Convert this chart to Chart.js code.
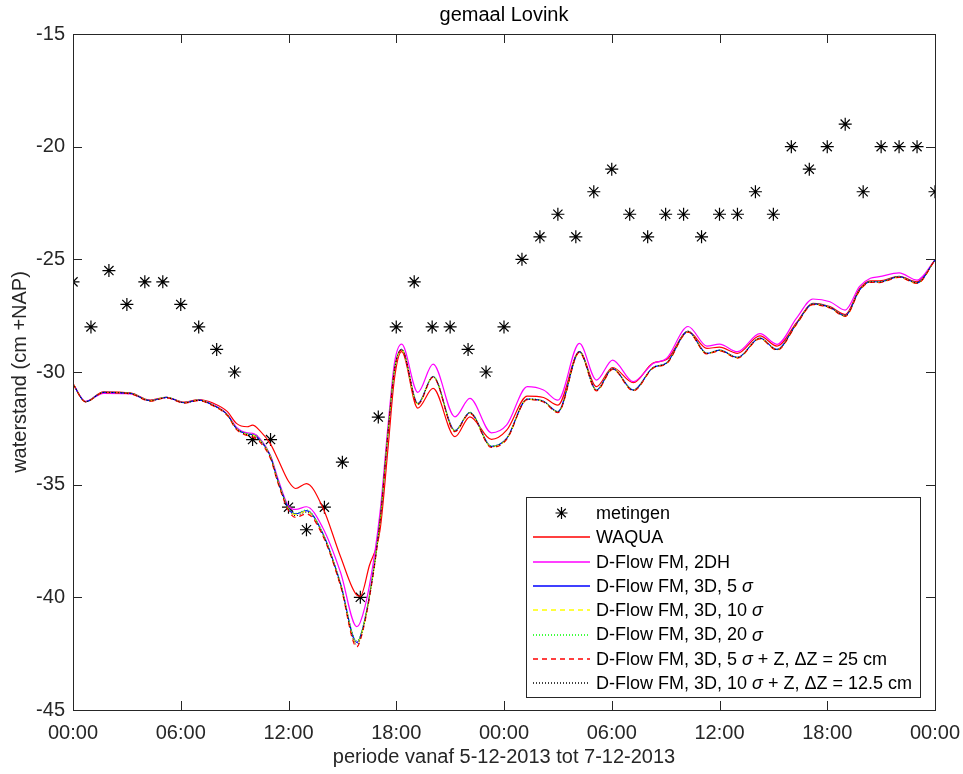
<!DOCTYPE html>
<html lang="nl">
<head>
<meta charset="UTF-8">
<title>gemaal Lovink</title>
<style>
  html, body { margin: 0; padding: 0; background: #fff; }
  #grafiek { display: block; }
</style>
<script src="https://cdn.jsdelivr.net/npm/chart.js@4.4.0/dist/chart.umd.min.js"></script>
</head>
<body>
<canvas id="grafiek" width="963" height="774"></canvas>
<script>
// uren sinds 5-12-2013 00:00
const metingUren = [0, 1, 2, 3, 4, 5, 6, 7, 8, 9, 10, 11, 12, 13, 14, 15, 16, 17, 18, 19,
                    20, 21, 22, 23, 24, 25, 26, 27, 28, 29, 30, 31, 32, 33, 34, 35, 36, 37, 38, 39,
                    40, 41, 42, 43, 44, 45, 46, 47, 48];
const metingen = [-26, -28, -25.5, -27, -26, -26, -27, -28, -29, -30,
                  -33, -33, -36, -37, -36, -34, -40, -32, -28, -26,
                  -28, -28, -29, -30, -28, -25, -24, -23, -24, -22,
                  -21, -23, -24, -23, -23, -24, -23, -23, -22, -23,
                  -20, -21, -20, -19, -22, -20, -20, -20, -22];

const modelUren = [0, 0.7, 1.7, 3.2, 4.3, 5.2, 6.2, 7.0, 7.8, 8.6,
                   9.1, 9.7, 10.0, 10.4, 11.0, 11.4, 12.0, 12.4, 13.0, 13.9,
                   14.9, 15.8, 16.0, 16.5, 17.1, 17.55, 17.9, 18.3, 19.2, 20.05,
                   21.27, 22.1, 23.3, 24.15, 25.3, 26.2, 27.0, 28.2, 29.15, 30.05,
                   31.2, 32.3, 33.05, 34.25, 35.3, 36.0, 37.0, 38.25, 39.2, 40.3,
                   41.2, 42.15, 43.0, 43.8, 44.4, 44.9, 46.0, 47.0, 48.0];

const waqua = [-30.53, -31.32, -30.88, -30.93, -31.25, -31.12, -31.34, -31.22, -31.38, -31.76,
               -32.28, -32.43, -32.36, -32.60, -33.20, -33.85, -34.85, -35.17, -34.95, -36.00,
               -38.20, -39.90, -39.95, -38.60, -37.00, -33.30, -30.30, -29.10, -31.60, -30.73,
               -32.87, -31.99, -32.99, -32.58, -31.07, -31.13, -31.47, -29.10, -30.65, -29.80,
               -30.47, -29.60, -29.45, -28.20, -28.95, -28.90, -29.17, -28.40, -28.85, -27.80,
               -26.95, -27.10, -27.45, -26.30, -25.95, -25.95, -25.75, -26.00, -25.03];

const fm2dh = [-30.53, -31.30, -30.95, -30.97, -31.27, -31.13, -31.36, -31.25, -31.45, -31.88,
               -32.45, -32.70, -32.72, -32.95, -33.70, -34.70, -35.95, -36.10, -35.98, -36.90,
               -38.90, -41.30, -41.10, -39.50, -36.20, -32.30, -29.60, -28.76, -30.90, -29.65,
               -31.99, -31.17, -32.70, -32.35, -30.65, -30.80, -31.25, -28.73, -30.36, -29.47,
               -30.43, -29.62, -29.40, -27.98, -28.85, -28.76, -29.10, -28.30, -28.77, -27.60,
               -26.76, -26.88, -27.25, -26.20, -25.84, -25.77, -25.60, -25.92, -25.03];

const fm3d5 = [-30.53, -31.32, -30.90, -30.95, -31.27, -31.13, -31.36, -31.25, -31.47, -31.90,
               -32.50, -32.75, -32.78, -33.00, -33.76, -34.80, -36.05, -36.30, -36.15, -37.15,
               -39.40, -42.00, -41.75, -39.97, -36.57, -32.60, -29.90, -29.00, -31.40, -30.20,
               -32.60, -31.80, -33.30, -32.95, -31.20, -31.30, -31.76, -29.10, -30.80, -29.85,
               -30.80, -29.80, -29.60, -28.20, -29.17, -29.03, -29.35, -28.50, -29.00, -27.84,
               -26.98, -27.13, -27.50, -26.36, -25.99, -26.00, -25.77, -26.04, -25.03];

const fm3d10 = [-30.53, -31.32, -30.91, -30.96, -31.27, -31.13, -31.36, -31.25, -31.48, -31.92,
                -32.52, -32.77, -32.80, -33.02, -33.78, -34.83, -36.08, -36.33, -36.18, -37.18,
                -39.45, -42.05, -41.80, -40.00, -36.60, -32.62, -29.92, -29.02, -31.42, -30.22,
                -32.62, -31.82, -33.32, -32.97, -31.22, -31.32, -31.78, -29.12, -30.82, -29.87,
                -30.82, -29.82, -29.62, -28.22, -29.19, -29.05, -29.37, -28.52, -29.02, -27.86,
                -27.00, -27.15, -27.52, -26.38, -26.01, -26.02, -25.79, -26.06, -25.03];

const fm3d20 = [-30.53, -31.31, -30.90, -30.94, -31.26, -31.12, -31.35, -31.24, -31.46, -31.89,
                -32.48, -32.73, -32.76, -32.98, -33.74, -34.78, -36.02, -36.27, -36.12, -37.12,
                -39.36, -41.92, -41.70, -39.93, -36.55, -32.58, -29.89, -28.99, -31.38, -30.19,
                -32.58, -31.78, -33.28, -32.93, -31.19, -31.29, -31.75, -29.09, -30.79, -29.84,
                -30.79, -29.79, -29.59, -28.19, -29.16, -29.02, -29.34, -28.49, -28.99, -27.83,
                -26.97, -27.12, -27.49, -26.35, -25.98, -25.99, -25.76, -26.03, -25.03];

const fm3d5z = [-30.54, -31.33, -30.92, -30.97, -31.29, -31.15, -31.38, -31.27, -31.50, -31.94,
                -32.55, -32.82, -32.88, -33.10, -33.85, -34.90, -36.15, -36.45, -36.30, -37.25,
                -39.50, -42.20, -41.90, -40.05, -36.62, -32.63, -29.93, -29.03, -31.45, -30.23,
                -32.65, -31.84, -33.35, -32.99, -31.23, -31.33, -31.80, -29.13, -30.84, -29.88,
                -30.84, -29.83, -29.63, -28.23, -29.20, -29.06, -29.38, -28.53, -29.03, -27.87,
                -27.01, -27.16, -27.53, -26.39, -26.02, -26.03, -25.80, -26.07, -25.03];

const fm3d10z = [-30.53, -31.32, -30.91, -30.96, -31.28, -31.14, -31.37, -31.26, -31.48, -31.91,
                 -32.52, -32.78, -32.82, -33.04, -33.80, -34.85, -36.10, -36.38, -36.22, -37.20,
                 -39.46, -42.10, -41.82, -40.01, -36.60, -32.61, -29.91, -29.01, -31.42, -30.21,
                 -32.62, -31.81, -33.32, -32.96, -31.21, -31.31, -31.77, -29.11, -30.81, -29.86,
                 -30.81, -29.81, -29.61, -28.21, -29.18, -29.04, -29.36, -28.51, -29.01, -27.85,
                 -26.99, -27.14, -27.51, -26.37, -26.00, -26.01, -25.78, -26.05, -25.03];

const xTickUren = [0, 6, 12, 18, 24, 30, 36, 42, 48];
const xTickLabels = ['00:00', '06:00', '12:00', '18:00', '00:00', '06:00', '12:00', '18:00', '00:00'];
const yTicks = [-45, -40, -35, -30, -25, -20, -15];

const namen = ['metingen', 'WAQUA', 'D-Flow FM, 2DH', 'D-Flow FM, 3D, 5 σ', 'D-Flow FM, 3D, 10 σ',
               'D-Flow FM, 3D, 20 σ', 'D-Flow FM, 3D, 5 σ + Z, ΔZ = 25 cm', 'D-Flow FM, 3D, 10 σ + Z, ΔZ = 12.5 cm'];

// lijnkleur, streeppatroon en dikte per reeks (index 0 = metingen)
const kleuren = ['#000000', '#ff0000', '#ff00ff', '#0000ff', '#ffff00', '#00ff00', '#ff0000', '#000000'];
const strepen = [[], [], [], [], [5, 4], [1, 2], [5, 4], [1, 2]];
const dikten = [1.2, 1.2, 1.2, 1.2, 1.2, 1, 1.2, 1];

const fontFam = '"Liberation Sans", Arial, Helvetica, sans-serif';
const asKleur = '#262626';

function punten(uren, waarden) {
    return uren.map((u, i) => ({ x: u, y: waarden[i] }));
}

function lijn(i, waarden) {
    return {
        label: namen[i],
        data: punten(modelUren, waarden),
        borderColor: kleuren[i],
        backgroundColor: kleuren[i],
        borderWidth: dikten[i],
        borderDash: strepen[i],
        pointRadius: 0,
        cubicInterpolationMode: 'monotone',
        fill: false,
        order: namen.length - 1 - i
    };
}

const datasets = [
    {
        label: namen[0],
        data: punten(metingUren, metingen),
        showLine: false,
        pointStyle: 'star',
        pointRadius: 6.5,
        pointBorderWidth: 1.2,
        pointBorderColor: '#000',
        pointBackgroundColor: '#000',
        borderColor: '#000',
        order: namen.length
    },
    lijn(1, waqua),
    lijn(2, fm2dh),
    lijn(3, fm3d5),
    lijn(4, fm3d10),
    lijn(5, fm3d20),
    lijn(6, fm3d5z),
    lijn(7, fm3d10z)
];

// assenkader met tickjes naar binnen, aan alle vier de zijden
const kaderPlugin = {
    id: 'kader',
    afterDatasetsDraw(chart) {
        const { ctx, chartArea: a, scales } = chart;
        const len = 9;
        ctx.save();
        ctx.strokeStyle = asKleur;
        ctx.lineWidth = 1;
        ctx.setLineDash([]);
        ctx.strokeRect(Math.round(a.left) + 0.5, Math.round(a.top) + 0.5,
                       Math.round(a.right - a.left), Math.round(a.bottom - a.top));
        ctx.beginPath();
        xTickUren.forEach(u => {
            const px = Math.round(scales.x.getPixelForValue(u)) + 0.5;
            ctx.moveTo(px, a.bottom); ctx.lineTo(px, a.bottom - len);
            ctx.moveTo(px, a.top); ctx.lineTo(px, a.top + len);
        });
        yTicks.forEach(v => {
            const py = Math.round(scales.y.getPixelForValue(v)) + 0.5;
            ctx.moveTo(a.left, py); ctx.lineTo(a.left + len, py);
            ctx.moveTo(a.right, py); ctx.lineTo(a.right - len, py);
        });
        ctx.stroke();
        ctx.restore();
    }
};

// tekst met cursieve sigma
function tekstDelen(ctx, tekst, x, y, grootte, meten) {
    const delen = tekst.split('σ');
    let cx = x;
    delen.forEach((deel, i) => {
        ctx.font = grootte + 'px ' + fontFam;
        if (!meten) ctx.fillText(deel, cx, y);
        cx += ctx.measureText(deel).width;
        if (i < delen.length - 1) {
            ctx.font = 'italic ' + grootte + 'px ' + fontFam;
            if (!meten) ctx.fillText('σ', cx, y);
            cx += ctx.measureText('σ').width;
        }
    });
    return cx - x;
}

function ster(ctx, x, y, r) {
    const d = r * Math.SQRT1_2;
    ctx.beginPath();
    ctx.moveTo(x - r, y); ctx.lineTo(x + r, y);
    ctx.moveTo(x, y - r); ctx.lineTo(x, y + r);
    ctx.moveTo(x - d, y - d); ctx.lineTo(x + d, y + d);
    ctx.moveTo(x - d, y + d); ctx.lineTo(x + d, y - d);
    ctx.stroke();
}

const legendaPlugin = {
    id: 'legenda',
    afterDraw(chart) {
        const { ctx, chartArea: a } = chart;
        const grootte = 18;
        const rij = 24.3;
        const lijnL = 7, lijnR = 64, tekstX = 70;
        ctx.save();
        let maxB = 0;
        namen.forEach(n => { maxB = Math.max(maxB, tekstDelen(ctx, n, 0, 0, grootte, true)); });
        const w = Math.round(tekstX + maxB + 8);
        const h = Math.round(rij * namen.length + 6);
        const rechts = Math.round(a.right) - 15;
        const onder = Math.round(a.bottom) - 13;
        const links = rechts - w, boven = onder - h;
        ctx.fillStyle = '#ffffff';
        ctx.fillRect(links, boven, w, h);
        ctx.strokeStyle = asKleur;
        ctx.lineWidth = 1;
        ctx.strokeRect(links + 0.5, boven + 0.5, w, h);
        ctx.textBaseline = 'middle';
        namen.forEach((naam, i) => {
            const y = boven + 16 + i * rij;
            ctx.strokeStyle = kleuren[i];
            if (i === 0) {
                ctx.setLineDash([]);
                ctx.lineWidth = 1.2;
                ster(ctx, links + (lijnL + lijnR) / 2, y, 6);
            } else {
                ctx.lineWidth = 1.5;
                ctx.setLineDash(strepen[i]);
                ctx.beginPath();
                ctx.moveTo(links + lijnL, Math.round(y));
                ctx.lineTo(links + lijnR, Math.round(y));
                ctx.stroke();
            }
            ctx.setLineDash([]);
            ctx.fillStyle = '#000000';
            tekstDelen(ctx, naam, links + tekstX, y + 1, grootte, false);
        });
        ctx.restore();
    }
};

new Chart(document.getElementById('grafiek'), {
    type: 'line',
    data: { datasets: datasets },
    options: {
        responsive: false,
        animation: false,
        layout: { padding: { top: 0, right: 28, left: 0, bottom: 0 } },
        plugins: {
            legend: { display: false },
            tooltip: { enabled: false },
            title: {
                display: true,
                text: 'gemaal Lovink',
                fullSize: false,
                color: '#000',
                font: { family: fontFam, size: 20, weight: 'normal' },
                padding: { top: 3, bottom: 7 }
            }
        },
        scales: {
            x: {
                type: 'linear',
                min: 0,
                max: 48,
                afterFit(s) { s.height = 64; s.paddingLeft = 0; s.paddingRight = 0; },
                afterBuildTicks(s) { s.ticks = xTickUren.map(v => ({ value: v })); },
                ticks: {
                    callback: (v) => xTickLabels[xTickUren.indexOf(v)],
                    color: asKleur,
                    font: { family: fontFam, size: 20 },
                    padding: 11,
                    maxRotation: 0,
                    autoSkip: false
                },
                grid: { display: false, drawTicks: false },
                border: { display: false },
                title: {
                    display: true,
                    text: 'periode vanaf 5-12-2013 tot 7-12-2013',
                    color: asKleur,
                    font: { family: fontFam, size: 20 },
                    padding: { top: 0, bottom: 5 }
                }
            },
            y: {
                min: -45,
                max: -15,
                afterFit(s) { s.width = 73; s.paddingTop = 0; s.paddingBottom = 0; },
                afterBuildTicks(s) { s.ticks = yTicks.map(v => ({ value: v })); },
                ticks: {
                    color: asKleur,
                    font: { family: fontFam, size: 20 },
                    padding: 8
                },
                grid: { display: false, drawTicks: false },
                border: { display: false },
                title: {
                    display: true,
                    text: 'waterstand (cm +NAP)',
                    color: asKleur,
                    font: { family: fontFam, size: 20 },
                    padding: { top: 8, bottom: 0 }
                }
            }
        }
    },
    plugins: [kaderPlugin, legendaPlugin]
});
</script>
</body>
</html>
